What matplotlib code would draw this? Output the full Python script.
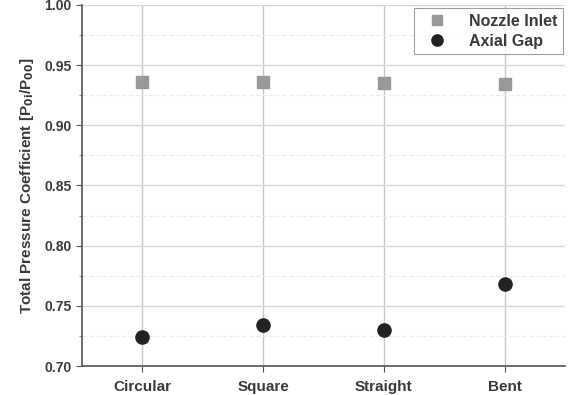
import matplotlib
matplotlib.use("Agg")
import matplotlib.pyplot as plt
from matplotlib.ticker import MultipleLocator

categories = ["Circular", "Square", "Straight", "Bent"]
nozzle_inlet = [0.936, 0.936, 0.935, 0.934]
axial_gap = [0.724, 0.734, 0.730, 0.768]

plt.rcParams['font.family'] = ['Liberation Sans', 'DejaVu Sans']
plt.rcParams['font.weight'] = 'bold'
tc = '#3a3a3a'

fig = plt.figure(figsize=(5.73, 3.95), dpi=100)
ax = fig.add_axes([0.143, 0.0734, 0.843, 0.914])
x = list(range(1, len(categories) + 1))

ax.set_xlim(0.5, 4.5)
ax.set_ylim(0.70, 1.00)
ax.yaxis.set_major_locator(MultipleLocator(0.05))
ax.yaxis.set_minor_locator(MultipleLocator(0.025))
ax.set_xticks(x)
ax.set_xticklabels(categories)

ax.grid(True, which='major', axis='y', color='#d8d8d8', lw=1.0)
ax.grid(True, which='minor', axis='y', color='#ececec', lw=0.8, ls=(0, (4, 2)))
ax.grid(True, which='major', axis='x', color='#c8c8c8', lw=1.0)
ax.set_axisbelow(True)

ax.plot(x, nozzle_inlet, 's', color='#999999', ms=8.5, ls='none', label='Nozzle Inlet', zorder=3)
ax.plot(x, axial_gap, 'o', color='#222222', ms=9.5, ls='none', label='Axial Gap', zorder=3)

for s in ['top', 'right']:
    ax.spines[s].set_visible(False)
for s in ['left', 'bottom']:
    ax.spines[s].set_color('#555555')
    ax.spines[s].set_linewidth(1.2)

ax.tick_params(axis='both', which='major', labelsize=10, colors='#555555', labelcolor=tc, length=4)
ax.tick_params(axis='y', which='minor', colors='#777777', length=2)
ax.tick_params(axis='x', which='major', labelsize=11, pad=6)
for lab in ax.get_xticklabels() + ax.get_yticklabels():
    lab.set_fontweight('bold')

ax.set_ylabel('Total Pressure Coefficient [P$_{\\mathbf{0i}}$/P$_{\\mathbf{00}}$]',
              fontsize=11, fontweight='bold', color=tc, labelpad=6)

leg = ax.legend(loc='upper right', bbox_to_anchor=(1.012, 1.013), fontsize=11.5, frameon=True,
                fancybox=False, edgecolor='#888888', handletextpad=0.9, borderpad=0.35,
                labelspacing=0.3, handlelength=2.2, markerscale=0.85)
leg.get_frame().set_linewidth(0.8)
for t in leg.get_texts():
    t.set_color(tc)
    t.set_fontweight('bold')

fig.savefig('out.png', dpi=100)
